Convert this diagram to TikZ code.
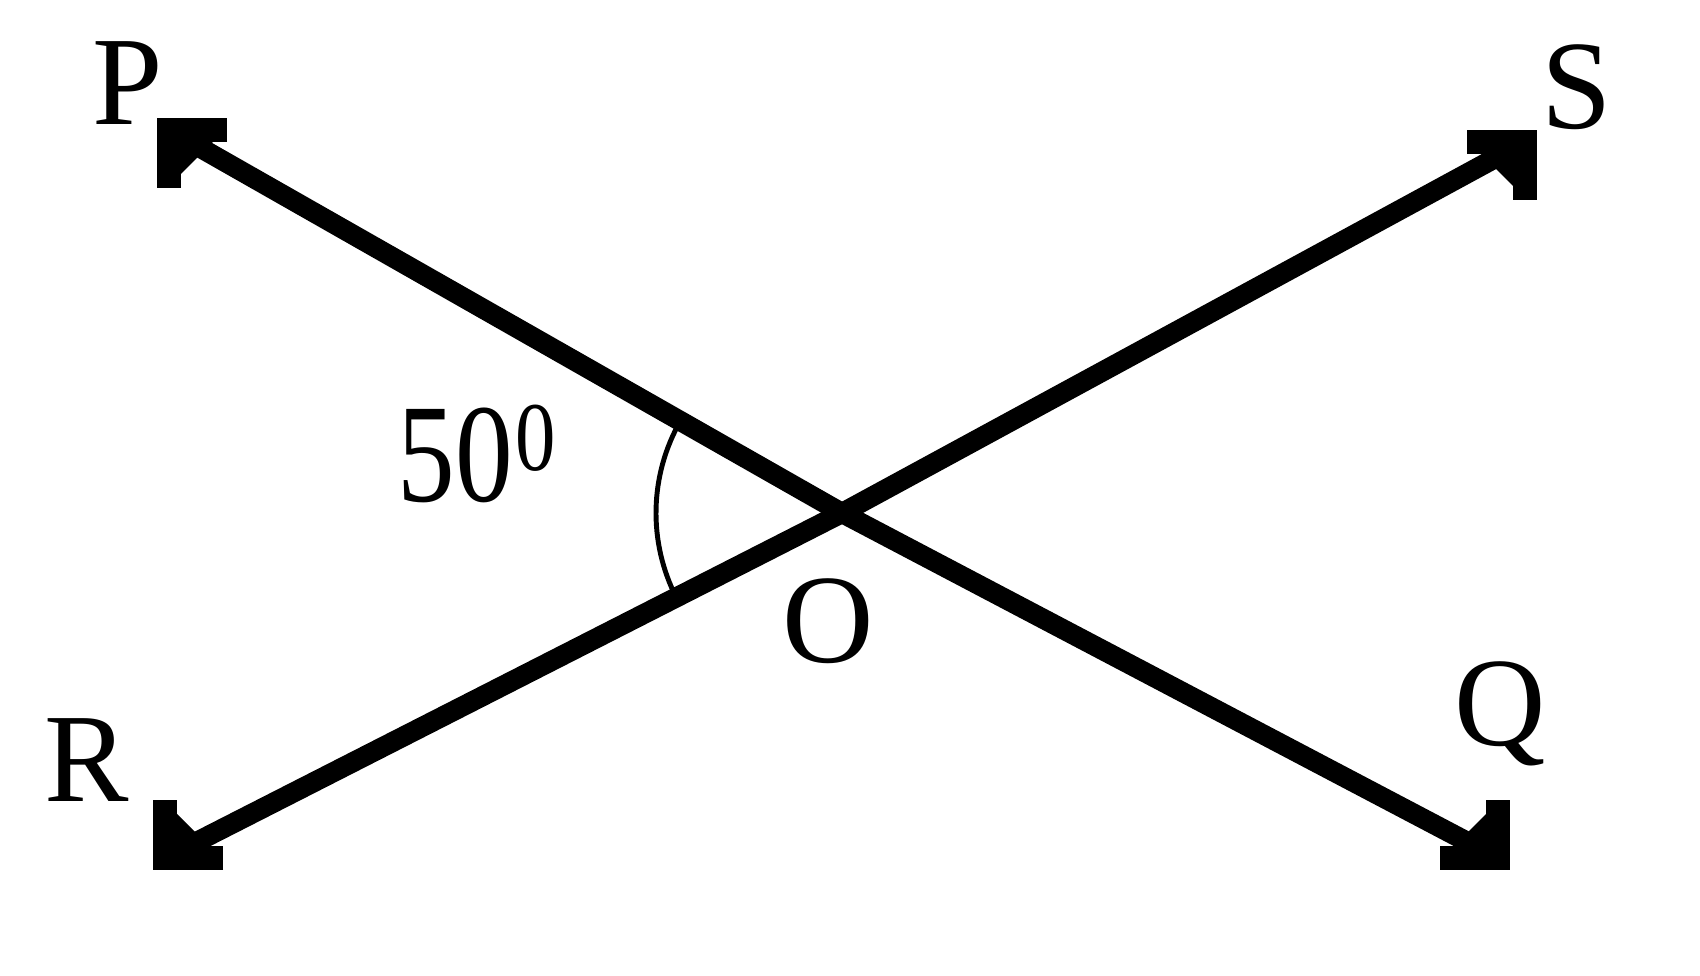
\documentclass[tikz,border=0pt]{standalone}
\usepackage{fontspec}
\setmainfont{Liberation Serif}
\usetikzlibrary{arrows.meta}

\begin{document}
\begin{tikzpicture}[x=0.01cm,y=0.01cm,
    ray/.style={line width=5.7pt, line cap=butt, line join=round},
    barb/.style={line width=6.8pt, line cap=butt, line join=miter},
    lbl/.style={inner sep=0pt, font=\fontsize{36}{42}\selectfont}]
    \def\Barb{58}
    \def\Fill{56}
    \def\Rad{186}
    \useasboundingbox (0,0) rectangle (1700,976);
    % corners of the arrow tips
    \coordinate (cP) at (169,846);
    \coordinate (cS) at (1525,834);
    \coordinate (cR) at (165,118);
    \coordinate (cQ) at (1498,118);
    \coordinate (O) at (842,463);
    \draw[ray] (cP) -- (O) -- (cQ);
    \draw[ray] (cR) -- (O) -- (cS);
    \foreach \name/\sx/\sy in {P/-1/1, S/1/1, R/-1/-1, Q/1/-1}{
        \draw[barb] ([shift={(-\sx*\Barb,0)}]c\name) -- (c\name) -- ([shift={(0,-\sy*\Barb)}]c\name);
        \fill (c\name) -- ++(-\sx*\Fill,0) -- ++(\sx*\Fill,-\sy*\Fill) -- cycle;
    }
    % angle mark
    \draw[line width=1.4pt] (O) ++(150.4:\Rad) arc (150.4:207:\Rad);
    % labels
    \foreach \name/\x/\y in {P/128/893, S/1577/889, R/87/216, Q/1500/262, O/828/355}{
        \node[lbl] (lbl\name) at (\x,\y) {\name};
    }
    \node[lbl, font=\fontsize{40}{46}\selectfont, anchor=base west] (ang) at (397,474) {\scalebox{0.82}[1]{50\kern1pt\textsuperscript{0}}};
\end{tikzpicture}
\end{document}
